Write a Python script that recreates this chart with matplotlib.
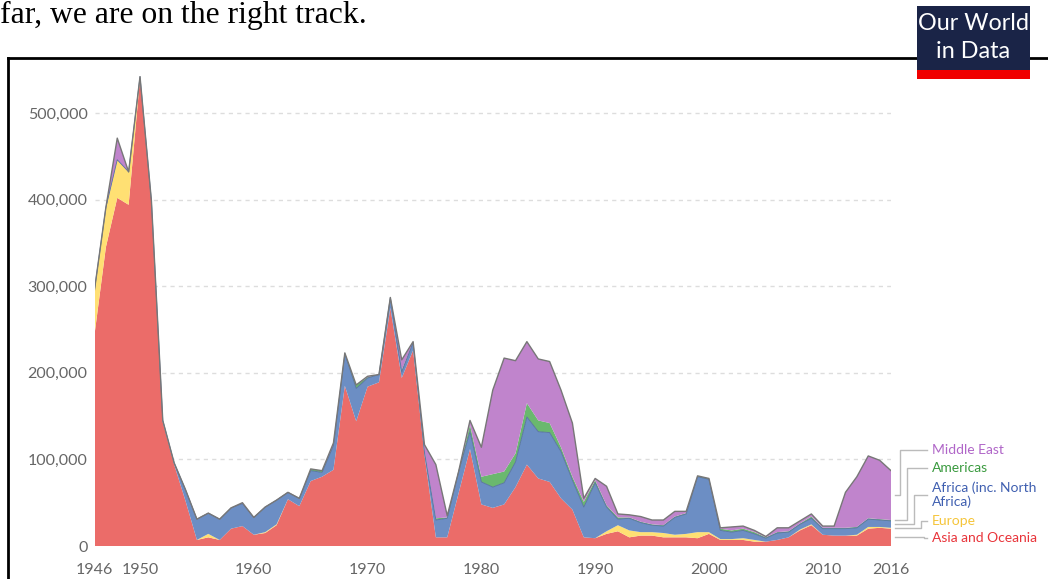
import matplotlib
matplotlib.use("Agg")
import matplotlib.pyplot as plt
import numpy as np
from matplotlib.patches import Rectangle
from matplotlib.lines import Line2D

W, H = 1048, 579

# Data (thousands of battle-related deaths), 1946-2016
years = np.arange(1946, 2017)

asia = [244, 345, 402, 394, 540, 398, 143, 94, 52, 7,
        10, 7, 20, 23, 13, 15, 24, 54, 46, 75,
        80, 88, 185, 144, 184, 189, 275, 194, 226, 105,
        10, 10, 61, 112, 48, 44, 48, 68, 94, 78,
        74, 55, 42, 10, 9, 14, 17, 10, 12, 12,
        10, 10, 10, 9, 14, 7, 7, 7, 5, 5,
        7, 10, 18, 24, 13, 12, 12, 12, 20, 21, 20]

europe = [51, 45, 44, 38, 2, 1, 0, 0, 0, 0,
          4, 0, 0, 0, 0, 1, 1, 0, 0, 0,
          0, 0, 0, 0, 0, 0, 0, 0, 0, 0,
          0, 0, 0, 0, 0, 0, 0, 0, 0, 0,
          0, 0, 0, 0, 0, 3, 7, 8, 4, 4,
          5, 3, 4, 7, 2, 1, 1, 2, 2, 0,
          0, 0, 1, 1, 0, 0, 0, 1, 2, 1, 1]

africa = [1, 1, 0, 0, 0, 0, 2, 2, 13, 24,
          24, 24, 24, 26, 20, 29, 28, 8, 9, 12,
          5, 28, 37, 38, 10, 9, 12, 7, 9, 3,
          20, 22, 25, 20, 26, 24, 25, 29, 55, 54,
          57, 54, 34, 35, 64, 28, 7, 14, 11, 8,
          8, 20, 23, 64, 61, 10, 8, 9, 7, 4,
          8, 6, 6, 7, 7, 8, 8, 8, 9, 8, 8]

americas = [0, 0, 0, 0, 0, 0, 0, 0, 0, 0,
            0, 0, 0, 0, 0, 0, 0, 0, 0, 2,
            2, 0, 1, 4, 1, 0, 0, 2, 0, 2,
            2, 1, 0, 8, 6, 15, 13, 10, 16, 13,
            11, 5, 4, 6, 3, 2, 2, 1, 1, 1,
            1, 1, 1, 1, 1, 2, 2, 2, 2, 1,
            1, 1, 1, 2, 1, 1, 1, 1, 1, 1, 1]

middle_east = [0, 0, 25, 0, 0, 0, 0, 0, 0, 0,
               0, 0, 0, 1, 0, 0, 0, 0, 0, 0,
               0, 3, 0, 0, 1, 0, 0, 12, 1, 7,
               62, 2, 0, 5, 34, 97, 131, 107, 71, 71,
               71, 66, 62, 4, 2, 22, 4, 3, 6, 5,
               6, 6, 2, 0, 0, 1, 4, 3, 2, 1,
               5, 4, 3, 3, 2, 2, 41, 58, 72, 68, 57]

series = [asia, europe, africa, americas, middle_east]
names = ["Asia and Oceania", "Europe", "Africa (inc. North\nAfrica)", "Americas", "Middle East"]
fill_colors = ["#EB6C69", "#FFE073", "#6C8EC4", "#6AB86E", "#C084CC"]
text_colors = ["#E8343A", "#F5C53A", "#3F5FB0", "#3A9A3F", "#B066C8"]
label_px_y = [538, 521, 495, 468, 450]          # label centres (pixels from top)
elbow_years = [2018.9, 2018.6, 2018.05, 2017.4, 2016.8]

yticks = [0, 100, 200, 300, 400, 500]
ytick_labels = ["0", "100,000", "200,000", "300,000", "400,000", "500,000"]
xticks = [1946, 1950, 1960, 1970, 1980, 1990, 2000, 2010, 2016]

fig = plt.figure(figsize=(W / 100, H / 100), dpi=100)
fig.patch.set_facecolor("white")

# axes placement in pixels
x0, x1 = 94.5, 891.0
ytop_val = 550
px_per_k = 0.866
y_zero = 546
ax = fig.add_axes([x0 / W, (H - y_zero) / H, (x1 - x0) / W, ytop_val * px_per_k / H])
ax.set_xlim(1946, 2016)
ax.set_ylim(0, ytop_val)

data = np.array(series, dtype=float)
ax.stackplot(years, data, colors=fill_colors, linewidth=0, zorder=2)
cum = np.cumsum(data, axis=0)
ax.plot(years, cum[2], color="#55709e", lw=0.6, zorder=3)
ax.plot(years, cum[-1], color="#777777", lw=1.0, zorder=3)

for s in ax.spines.values():
    s.set_visible(False)
ax.axhline(0, color="#cccccc", lw=1.2, zorder=1)
for v in yticks[1:]:
    ax.axhline(v, color="#dddddd", lw=1, ls=(0, (3, 3)), zorder=1)

ax.set_yticks(yticks)
ax.set_yticklabels(ytick_labels)
ax.set_xticks(xticks)
ax.set_xticklabels([str(x) for x in xticks])
ax.tick_params(length=0, labelsize=11.5, labelcolor="#666666")
ax.tick_params(axis="x", pad=12)
ax.tick_params(axis="y", pad=5)
for lab in ax.get_xticklabels() + ax.get_yticklabels():
    lab.set_fontfamily("Lato")

# legend labels with connectors
def px_to_val(py):
    return (y_zero - py) / px_per_k

end_cum = np.concatenate([[0.0], cum[:, -1]])
for i, name in enumerate(names):
    mid = (end_cum[i] + end_cum[i + 1]) / 2
    ly = px_to_val(label_px_y[i])
    ex = elbow_years[i]
    ax.plot([2016.35, ex, ex, 2019.2], [mid, mid, ly, ly],
            color="#bbbbbb", lw=1, clip_on=False, zorder=1)
    ax.text(2019.6, ly, name, color=text_colors[i], fontsize=10,
            fontfamily="Lato", va="center", ha="left", clip_on=False,
            linespacing=1.1)

# page context: sentence fragment, frame, logo
fig.text(0, 1 - 23 / H, "far, we are on the right track.", fontsize=22.8,
         fontfamily="Liberation Serif", color="black", va="baseline", ha="left")
fig.add_artist(Line2D([8 / W, 1.0], [1 - 58 / H, 1 - 58 / H], color="black", lw=2))
fig.add_artist(Line2D([8 / W, 8 / W], [0, 1 - 58 / H], color="black", lw=2))
fig.add_artist(Rectangle((917 / W, 1 - 70 / H), 113 / W, 64 / H,
                         facecolor="#1a2447", edgecolor="none", zorder=5))
fig.add_artist(Rectangle((917 / W, 1 - 79 / H), 113 / W, 9 / H,
                         facecolor="#f00000", edgecolor="none", zorder=5))
fig.text(973.5 / W, 1 - 24 / H, "Our World", color="white", fontsize=16.8,
         fontfamily="Lato", ha="center", va="center", zorder=6)
fig.text(973.5 / W, 1 - 52 / H, "in Data", color="white", fontsize=16.8,
         fontfamily="Lato", ha="center", va="center", zorder=6)

fig.savefig("out.png", dpi=100)
